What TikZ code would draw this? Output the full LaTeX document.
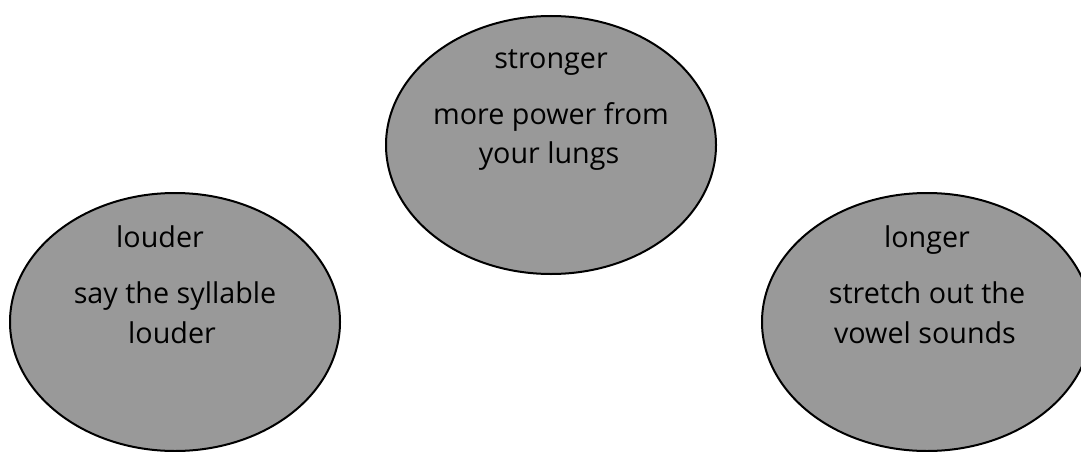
\documentclass[tikz,border=0pt]{standalone}
\usepackage{fontspec}
\setmainfont{Open Sans}
\usetikzlibrary{shapes.geometric}
\tikzset{
  bubble/.style={ellipse, draw=black, line width=2pt, fill=bubblegray,
    minimum width=330pt, minimum height=258pt, inner sep=0pt},
  label/.style={anchor=base, inner sep=0pt, text=black,
    font=\fontsize{28.7}{39}\selectfont}
}
\definecolor{bubblegray}{RGB}{153,153,153}
\begin{document}
\begin{tikzpicture}[x=1pt,y=-1pt]
  \useasboundingbox (0,0) rectangle (1081,452);
  \clip (0,0) rectangle (1081,452);
  % the three bubbles
  \node[bubble] (stronger) at (551,145) {};
  \node[bubble] (louder) at (175,322) {};
  \node[bubble] (longer) at (927,322) {};
  % top bubble text
  \node[label] (strongerT) at (551,69) {stronger};
  \node[label] (strongerA) at (551,124) {more power from};
  \node[label] (strongerB) at (549,163) {your lungs};
  % left bubble text
  \node[label] (louderT) at (160,247) {louder};
  \node[label] (louderA) at (175,303) {say the syllable};
  \node[label] (louderB) at (172,343) {louder};
  % right bubble text
  \node[label] (longerT) at (927,247) {longer};
  \node[label] (longerA) at (927,303) {stretch out the};
  \node[label] (longerB) at (925,343) {vowel sounds};
\end{tikzpicture}
\end{document}
